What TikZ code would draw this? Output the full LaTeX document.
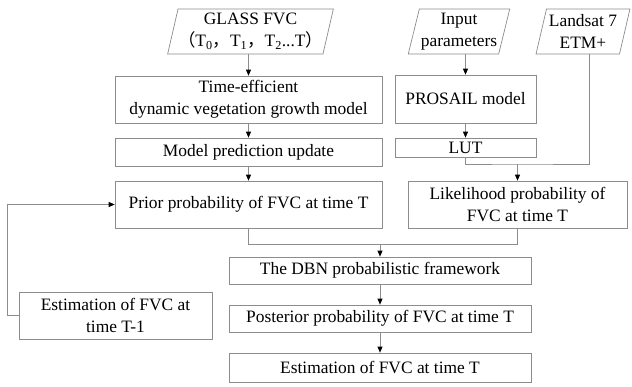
\documentclass[tikz,border=0pt]{standalone}
\usepackage{fontspec}
\setmainfont{Liberation Serif}
\newfontfamily\cjk{Noto Sans CJK SC}
\usetikzlibrary{arrows.meta,shapes.geometric}
\definecolor{boxgray}{RGB}{140,140,140}
\definecolor{linegray}{RGB}{140,140,140}
\begin{document}
\begin{tikzpicture}[x=1pt,y=-1pt,
  box/.style={draw=boxgray, line width=0.7pt, rectangle, inner sep=0pt, align=center, font=\fontsize{17.4}{22}\selectfont},
  para/.style={draw=boxgray, line width=0.7pt, trapezium, trapezium left angle=74, trapezium right angle=106, trapezium stretches=true, inner sep=0pt, align=center, font=\fontsize{17.4}{22}\selectfont},
  conn/.style={draw=linegray, line width=0.7pt},
  arr/.style={conn, -{Triangle[width=5pt,length=6pt,color=black]}}
]
\useasboundingbox (0,0) rectangle (632,386);
% inputs
\node[para, minimum width=165, minimum height=45] (glass) at (250.5,31.5) {GLASS FVC\\{\cjk （}T\textsubscript{0}{\cjk ，}T\textsubscript{1}{\cjk ，}T\textsubscript{2}...T{\cjk ）}};
\node[para, minimum width=102, minimum height=45] (input) at (459,31.5) {Input\\parameters};
\node[para, minimum width=94, minimum height=45] (landsat) at (583,31.5) {Landsat 7\\ETM+};
% left column
\node[box, minimum width=267, minimum height=47] (tegm) at (248.5,99.5) {Time-efficient\\dynamic vegetation growth model};
\node[box, minimum width=267, minimum height=28] (mpu) at (248.5,152) {Model prediction update};
\node[box, minimum width=267, minimum height=47] (prior) at (248.5,204.5) {Prior probability of FVC at time T};
% right column
\node[box, minimum width=141, minimum height=48] (prosail) at (465.5,99) {PROSAIL model};
\node[box, minimum width=141, minimum height=19] (lut) at (465.5,147.5) {LUT};
\node[box, minimum width=219, minimum height=47] (like) at (517.5,204.5) {Likelihood probability of\\FVC at time T};
% bottom
\node[box, minimum width=302, minimum height=27] (dbn) at (380,270.5) {The DBN probabilistic framework};
\node[box, minimum width=302, minimum height=27] (post) at (380,318.5) {Posterior probability of FVC at time T};
\node[box, minimum width=302, minimum height=29] (est) at (380,367.5) {Estimation of FVC at time T};
\node[box, minimum width=193, minimum height=47] (estm1) at (115.5,315.5) {Estimation of FVC at\\time T-1};
% helper coordinates
\path (0,164) coordinate (y1) (0,244) coordinate (y2);
\coordinate (j1) at (like.north |- y1);
% connectors
\draw[arr] (tegm.north |- glass.south) -- (tegm.north);
\draw[arr] (tegm) -- (mpu);
\draw[arr] (mpu) -- (prior);
\draw[arr] (prosail.north |- input.south) -- (prosail.north);
\draw[arr] (prosail) -- (lut);
\draw[conn] (lut.south) |- (j1) -| ([xshift=6pt]landsat.south);
\draw[arr] (j1) -- (like.north);
\draw[conn] (prior.south) |- (y2 -| like.south) -- (like.south);
\draw[arr] (dbn.north |- y2) -- (dbn.north);
\draw[arr] (dbn) -- (post);
\draw[arr] (post) -- (est);
\draw[arr] (estm1.west) -- ++(-11,0) |- (prior.west);
\end{tikzpicture}
\end{document}
